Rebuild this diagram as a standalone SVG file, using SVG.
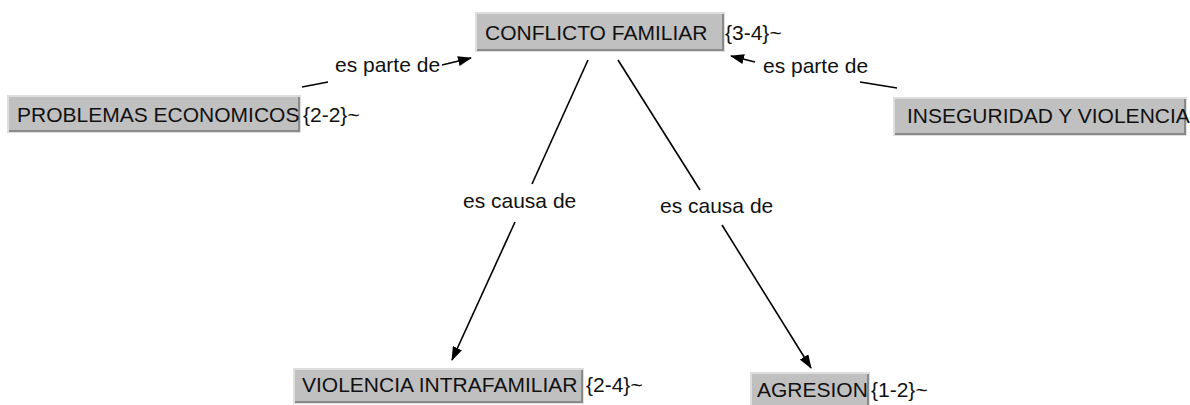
<svg xmlns="http://www.w3.org/2000/svg" width="1190" height="405" viewBox="0 0 1190 405">
<style>
text{font-family:"Liberation Sans",Arial,sans-serif;font-size:21px;fill:#111}
.box{fill:#c0c0c0;stroke:#dedede;stroke-width:2}
.sh{stroke:#8a8a8a;stroke-width:2;fill:none}
.ln{stroke:#000;stroke-width:1.6;fill:none}
</style>
<defs>
<marker id="ah" viewBox="0 0 14 10" refX="13" refY="5" markerWidth="14" markerHeight="10" markerUnits="userSpaceOnUse" orient="auto">
<path d="M0,0 L14,5 L0,10 Z" fill="#000"/>
</marker>
</defs>
<rect width="1190" height="405" fill="#fff"/>
<g id="connectors">
<line class="ln" x1="302" y1="87" x2="328" y2="82"/>
<line class="ln" x1="442" y1="65" x2="471" y2="58" marker-end="url(#ah)"/>
<text x="335" y="72">es parte de</text>
<line class="ln" x1="897" y1="88" x2="860" y2="82"/>
<line class="ln" x1="755" y1="62" x2="731" y2="56" marker-end="url(#ah)"/>
<text x="763" y="73">es parte de</text>
<line class="ln" x1="588" y1="60" x2="532" y2="184"/>
<line class="ln" x1="515" y1="222" x2="452" y2="360" marker-end="url(#ah)"/>
<text x="463" y="208">es causa de</text>
<line class="ln" x1="618" y1="60" x2="700" y2="190"/>
<line class="ln" x1="722" y1="225" x2="811" y2="368" marker-end="url(#ah)"/>
<text x="660" y="213">es causa de</text>
</g>
<g id="conflicto">
<rect class="box" x="476" y="13" width="248" height="38"/>
<polyline class="sh" points="477,50 723,50 723,14"/>
<text x="485" y="40">CONFLICTO FAMILIAR</text>
<text x="725" y="40">{3-4}~</text>
</g>
<g id="problemas">
<rect class="box" x="8" y="96" width="292" height="36"/>
<polyline class="sh" points="9,131 299,131 299,97"/>
<text x="17" y="122">PROBLEMAS ECONOMICOS</text>
<text x="303" y="122">{2-2}~</text>
</g>
<g id="inseguridad">
<rect class="box" x="894" y="98" width="292" height="37"/>
<polyline class="sh" points="895,134 1185,134 1185,99"/>
<text x="907" y="123">INSEGURIDAD Y VIOLENCIA</text>
</g>
<g id="violencia">
<rect class="box" x="294" y="369" width="289" height="34"/>
<polyline class="sh" points="295,402 582,402 582,370"/>
<text x="302" y="392">VIOLENCIA INTRAFAMILIAR</text>
<text x="586" y="392">{2-4}~</text>
</g>
<g id="agresion">
<rect class="box" x="751" y="373" width="118" height="40"/>
<polyline class="sh" points="868,374 868,412"/>
<text x="757" y="397">AGRESION</text>
<text x="871" y="397">{1-2}~</text>
</g>
</svg>
